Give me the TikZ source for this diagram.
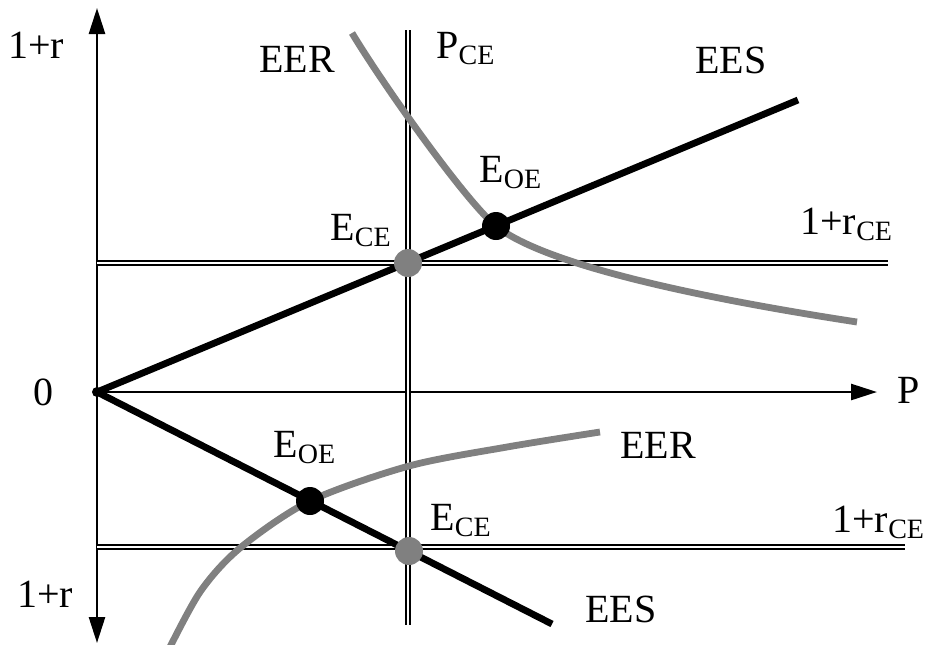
\documentclass[tikz,border=0pt]{standalone}
\usepackage{fontspec}
\setmainfont{Liberation Serif}
\usepackage{tikz}
\usetikzlibrary{arrows.meta,positioning}
\definecolor{curveGray}{RGB}{128,128,128}
\newcommand{\lowsub}[1]{\raisebox{-3.2pt}{\fontsize{14}{16}\selectfont #1}}

\begin{document}
\begin{tikzpicture}[x=0.5pt, y=-0.5pt,
    every node/.style={font=\fontsize{20}{24}\selectfont, inner sep=0pt, anchor=base west},
    axis/.style={line width=1.3pt, -{Triangle[length=13pt, width=8pt]}},
    celine/.style={double, line width=1.1pt, double distance=0.9pt},
    ees/.style={line width=3.4pt},
    eer/.style={line width=3.4pt, curveGray},
    optdot/.style={circle, fill=black, minimum size=14pt, anchor=center},
    cedot/.style={circle, fill=curveGray, minimum size=14pt, anchor=center}
  ]
    \useasboundingbox (0,0) rectangle (925,644);
    % Axes
    \node[circle, fill=black, minimum size=5pt, anchor=center] (orig) at (97,392) {};
    \coordinate (yTop) at (97,8);
    \coordinate (yBot) at (97,643);
    \coordinate (xEnd) at (877,392);
    \draw[axis] (orig.center) -- (yTop);
    \draw[axis] (orig.center) -- (yBot);
    \draw[axis] (orig.center) -- (xEnd);
    % Competitive equilibrium lines
    \coordinate (pceTop) at (408,30);
    \coordinate (pceBot) at (408,625);
    \coordinate (rceUpL) at (97,263);
    \coordinate (rceUpR) at (888,263);
    \coordinate (rceLowL) at (97,547);
    \coordinate (rceLowR) at (905,547);
    \draw[celine] (pceTop) -- (pceBot);
    \draw[celine] (rceUpL) -- (rceUpR);
    \draw[celine] (rceLowL) -- (rceLowR);
    % EER curves
    \draw[eer] (352,33) .. controls (382,83) and (466,202) .. (496,226)
      .. controls (546,266) and (707,299) .. (857,322);
    \draw[eer] plot[smooth] coordinates {(166,655) (200,592) (240,548) (310,501) (409,466) (507,447) (600,432)};
    % EES lines
    \coordinate (eesUp) at (798,100);
    \coordinate (eesLow) at (552,624);
    \draw[ees] (orig.center) -- (eesUp);
    \draw[ees] (orig.center) -- (eesLow);
    % Equilibria
    \node[cedot] (ceUp) at (408,263) {};
    \node[optdot] (oeUp) at (496,226) {};
    \node[optdot] (oeLow) at (310,501) {};
    \node[cedot] (ceLow) at (409,551) {};
    % Labels
    \node (rTop) at (8,58) {1+r};
    \node (rBot) at (17,607) {1+r};
    \node (zero) at (33,405) {0};
    \node (pLab) at (897,403) {P};
    \node (eerUpLab) at (259,72) {EER};
    \node (pceLab) at (436,58) {P\lowsub{CE}};
    \node (eesUpLab) at (695,73) {EES};
    \node (oeUpLab) at (479,182) {E\lowsub{OE}};
    \node (ceUpLab) at (330,240) {E\lowsub{CE}};
    \node (rceUpLab) at (800,234) {1+r\lowsub{CE}};
    \node (eerLowLab) at (620,458) {EER};
    \node (oeLowLab) at (273,457) {E\lowsub{OE}};
    \node (ceLowLab) at (430,530) {E\lowsub{CE}};
    \node (rceLowLab) at (832,532) {1+r\lowsub{CE}};
    \node (eesLowLab) at (585,622) {EES};
\end{tikzpicture}
\end{document}
